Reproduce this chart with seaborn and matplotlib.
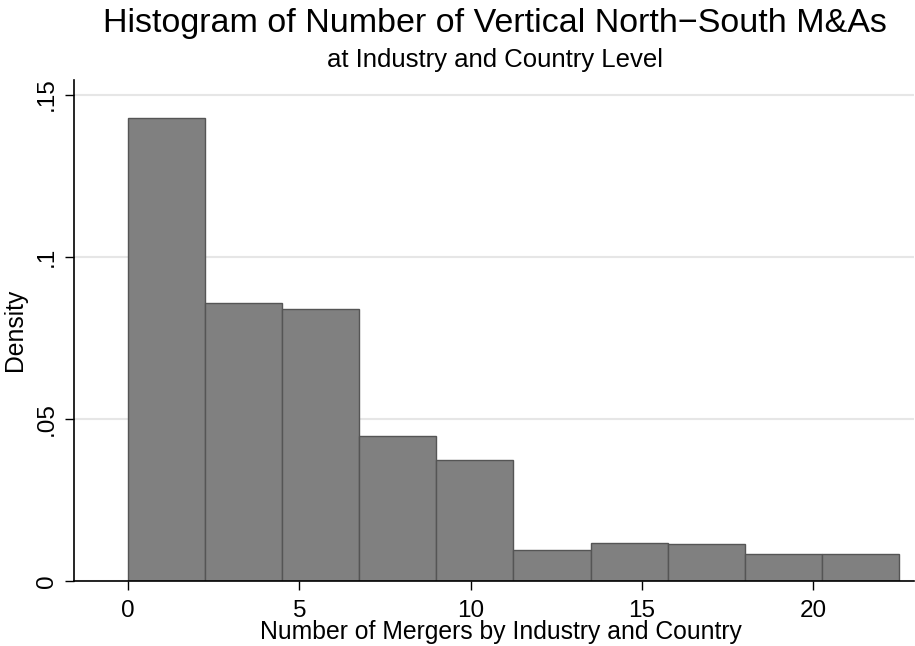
import matplotlib
matplotlib.use("Agg")
import matplotlib.pyplot as plt
import seaborn as sns
import numpy as np
import pandas as pd

# ---- data ----
bin_start = 0.0
bin_width = 2.25
densities = [0.1428, 0.0857, 0.0839, 0.0447, 0.0374, 0.0096, 0.0117, 0.0114, 0.0083, 0.0083]
x_ticks = [0, 5, 10, 15, 20]
y_ticks = [0, 0.05, 0.10, 0.15]
y_ticklabels = ["0", ".05", ".1", ".15"]
title = "Histogram of Number of Vertical North\u2212South M&As"
subtitle = "at Industry and Country Level"
xlabel = "Number of Mergers by Industry and Country"
ylabel = "Density"

n_bins = len(densities)
edges = [bin_start + bin_width * i for i in range(n_bins + 1)]
centers = [(edges[i] + edges[i + 1]) / 2 for i in range(n_bins)]
df = pd.DataFrame({"x": centers, "density": densities})

sns.set_theme(style="white")
plt.rcParams["font.family"] = ["Liberation Sans", "DejaVu Sans"]

fig = plt.figure(figsize=(9.15, 6.46), dpi=100)
ax = fig.add_axes([74 / 915, 1 - 581 / 646, (914 - 74) / 915, (581 - 80) / 646])

ax.set_axisbelow(True)
sns.histplot(data=df, x="x", weights="density", bins=edges, stat="count",
             color="#808080", edgecolor="#555555", linewidth=1.0, alpha=1.0, ax=ax)

ax.set_xlim(-1.576, 22.94)
ax.set_ylim(0, 0.1545)
ax.set_xticks(x_ticks)
ax.set_xticklabels([str(t) for t in x_ticks])
ax.set_yticks(y_ticks)
ax.set_yticklabels(y_ticklabels, rotation=90, va="center")

ax.yaxis.grid(True, color="#e6e6e6", linewidth=1.5)
ax.xaxis.grid(False)

for s in ["top", "right"]:
    ax.spines[s].set_visible(False)
for s in ["left", "bottom"]:
    ax.spines[s].set_color("black")
    ax.spines[s].set_linewidth(1.2)

ax.tick_params(axis="both", which="major", direction="out", length=6.5, width=1.0,
               color="black", labelsize=17.5, labelcolor="black")
ax.tick_params(axis="x", pad=7)
ax.tick_params(axis="y", pad=5)
ax.xaxis.set_ticks_position("bottom")
ax.yaxis.set_ticks_position("left")

ax.set_xlabel(xlabel, fontsize=17.8, color="black")
ax.xaxis.label.set_va("baseline")
ax.xaxis.set_label_coords((501 - 74) / 840, (581 - 639) / 501)
ax.set_ylabel(ylabel, fontsize=17.8, color="black")
ax.yaxis.label.set_va("center")
ax.yaxis.set_label_coords((15 - 74) / 840, (581 - 330) / 501)

fig.text(495 / 915, 1 - 32 / 646, title, ha="center", va="baseline", fontsize=24.5, color="black")
fig.text(495 / 915, 1 - 67 / 646, subtitle, ha="center", va="baseline", fontsize=18.5, color="black")

fig.savefig("out.png", dpi=100, facecolor="white")
